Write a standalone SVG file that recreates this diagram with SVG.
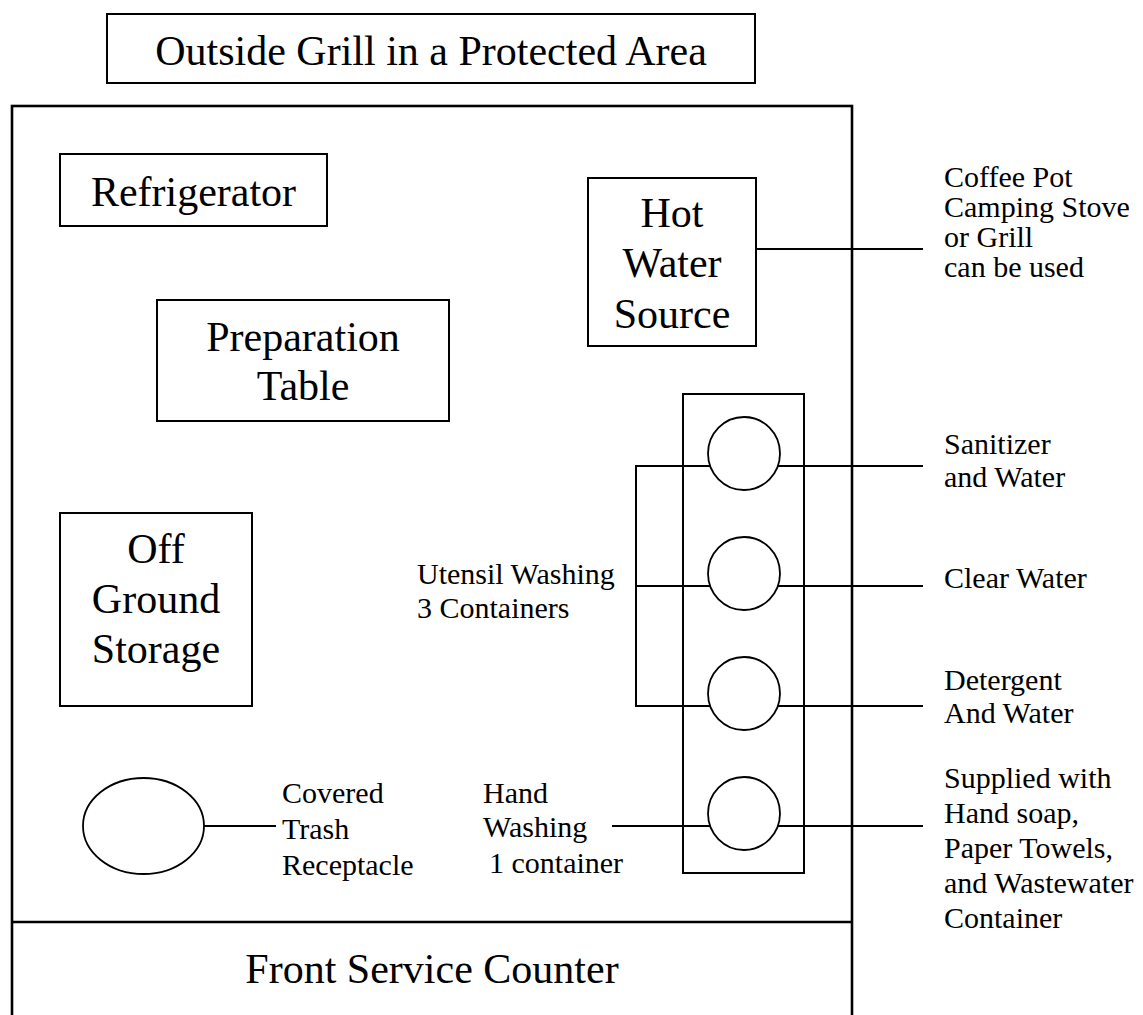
<svg xmlns="http://www.w3.org/2000/svg" width="1143" height="1015" viewBox="0 0 1143 1015">
<style>
  .box { fill: none; stroke: #000; stroke-width: 2; }
  .outer { fill: none; stroke: #000; stroke-width: 2.6; }
  .circ { fill: #fff; stroke: #000; stroke-width: 1.8; }
  .line { stroke: #000; stroke-width: 2; fill: none; }
  text { font-family: "Liberation Serif", "DejaVu Serif", "Times New Roman", Times, serif; fill: #000; }
  .big { font-size: 42px; text-anchor: middle; }
  .small { font-size: 30px; }
</style>
<rect width="1143" height="1015" fill="#fff"/>

<g id="title">
  <rect class="box" x="107" y="14" width="648" height="69"/>
  <text class="big" x="431" y="65">Outside Grill in a Protected Area</text>
</g>

<g id="area">
  <rect class="outer" x="12" y="106" width="840" height="940"/>
  <line class="outer" x1="12" y1="922" x2="852" y2="922"/>
</g>

<g id="counter">
  <text class="big" x="432" y="983">Front Service Counter</text>
</g>

<g id="connectors">
  <line class="line" x1="756" y1="249" x2="923" y2="249"/>
  <polyline class="line" points="923,466 636,466 636,706 923,706"/>
  <line class="line" x1="636" y1="586" x2="923" y2="586"/>
  <line class="line" x1="612" y1="826" x2="923" y2="826"/>
  <line class="line" x1="204" y1="826" x2="276" y2="826"/>
</g>

<g id="refrigerator">
  <rect class="box" x="60" y="154" width="267" height="72"/>
  <text class="big" x="193.5" y="206">Refrigerator</text>
</g>

<g id="preparation-table">
  <rect class="box" x="157" y="300" width="292" height="121"/>
  <text class="big" x="303" y="351">Preparation</text>
  <text class="big" x="303" y="400">Table</text>
</g>

<g id="off-ground-storage">
  <rect class="box" x="60" y="513" width="192" height="193"/>
  <text class="big" x="156" y="563">Off</text>
  <text class="big" x="156" y="613">Ground</text>
  <text class="big" x="156" y="663">Storage</text>
</g>

<g id="hot-water-source">
  <rect class="box" x="588" y="178" width="168" height="168"/>
  <text class="big" x="672" y="227">Hot</text>
  <text class="big" x="672" y="277">Water</text>
  <text class="big" x="672" y="328">Source</text>
</g>

<g id="hot-water-note">
  <text class="small" x="944" y="187">Coffee Pot</text>
  <text class="small" x="944" y="217">Camping Stove</text>
  <text class="small" x="944" y="247">or Grill</text>
  <text class="small" x="944" y="277">can be used</text>
</g>

<g id="wash-station">
  <rect class="box" x="683" y="394" width="121" height="479"/>
  <ellipse class="circ" cx="744" cy="453.5" rx="36" ry="36.5"/>
  <ellipse class="circ" cx="744" cy="573.5" rx="36" ry="36.5"/>
  <ellipse class="circ" cx="744" cy="693.5" rx="36" ry="36.5"/>
  <ellipse class="circ" cx="744" cy="813.5" rx="36" ry="36.5"/>
</g>

<g id="utensil-label">
  <text class="small" x="417" y="584">Utensil Washing</text>
  <text class="small" x="417" y="618">3 Containers</text>
</g>

<g id="sanitizer-label">
  <text class="small" x="944" y="454">Sanitizer</text>
  <text class="small" x="944" y="487">and Water</text>
</g>

<g id="clear-water-label">
  <text class="small" x="944" y="588">Clear Water</text>
</g>

<g id="detergent-label">
  <text class="small" x="944" y="690">Detergent</text>
  <text class="small" x="944" y="723">And Water</text>
</g>

<g id="supplies-label">
  <text class="small" x="944" y="788">Supplied with</text>
  <text class="small" x="944" y="823">Hand soap,</text>
  <text class="small" x="944" y="858">Paper Towels,</text>
  <text class="small" x="944" y="893">and Wastewater</text>
  <text class="small" x="944" y="928">Container</text>
</g>

<g id="trash">
  <ellipse class="circ" cx="143.5" cy="826" rx="60.5" ry="48"/>
  <text class="small" x="282" y="803">Covered</text>
  <text class="small" x="282" y="839">Trash</text>
  <text class="small" x="282" y="875">Receptacle</text>
</g>

<g id="hand-washing-label">
  <text class="small" x="483" y="803">Hand</text>
  <text class="small" x="483" y="837">Washing</text>
  <text class="small" x="489" y="873">1 container</text>
</g>
</svg>
